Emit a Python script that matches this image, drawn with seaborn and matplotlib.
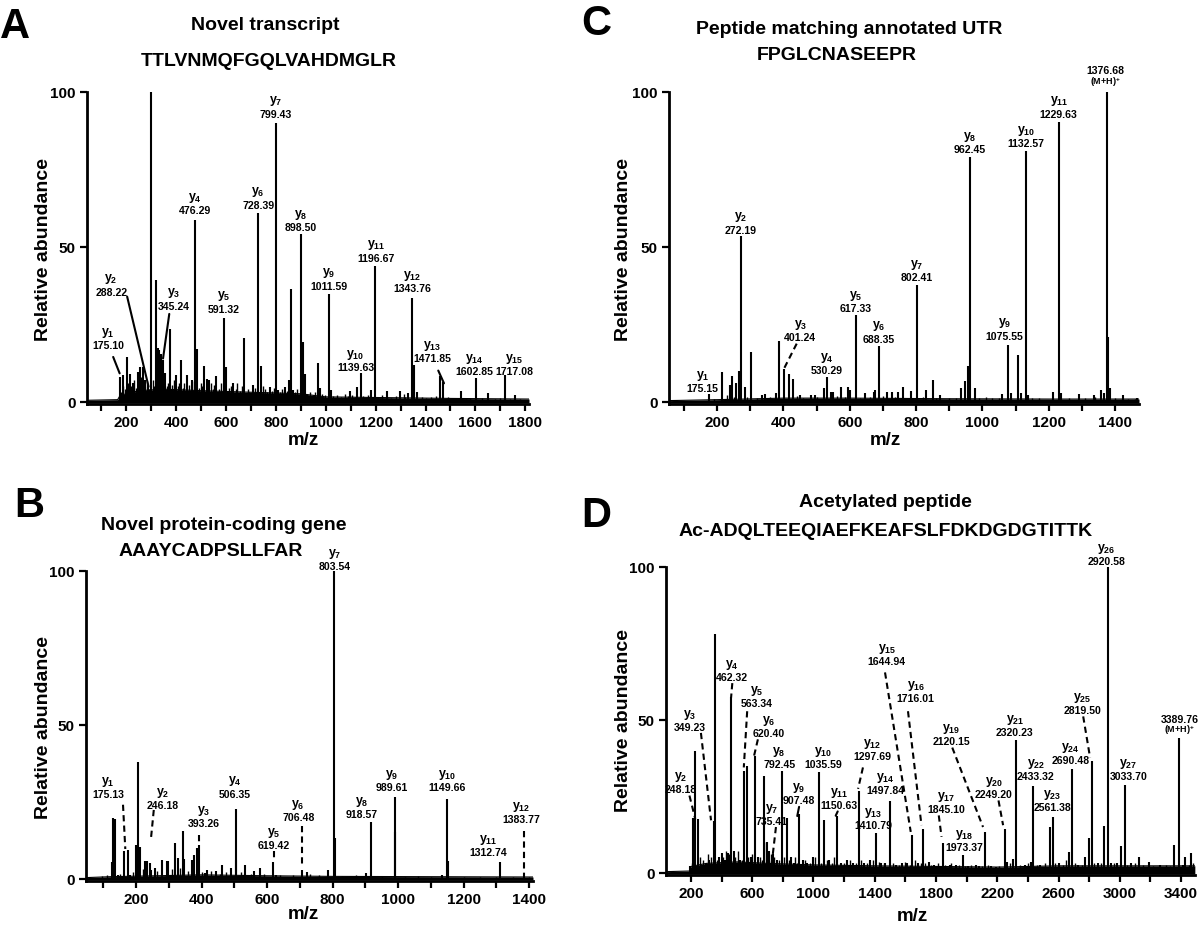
import matplotlib
matplotlib.use("Agg")
import matplotlib.pyplot as plt
from matplotlib.ticker import MultipleLocator, FuncFormatter
import seaborn as sns
import pandas as pd

sns.set_theme(style="ticks")
plt.rcParams['font.family'] = ['Liberation Sans', 'DejaVu Sans']
plt.rcParams['mathtext.fontset'] = 'custom'
plt.rcParams['mathtext.rm'] = 'Liberation Sans:bold'
plt.rcParams['mathtext.it'] = 'Liberation Sans:bold'
plt.rcParams['mathtext.bf'] = 'Liberation Sans:bold'
for k in ('text.color', 'axes.labelcolor', 'xtick.color', 'ytick.color', 'axes.edgecolor'):
    plt.rcParams[k] = 'black'

# ---------------- Panel A data ----------------
a_title = "Novel transcript"
a_seq = "TTLVNMQFGQLVAHDMGLR"
a_peaks = [(175.10, 8), (185, 8.5), (203, 14.4), (213, 9), (227, 6), (247, 9.6), (256, 11.2), (265, 11),
           (276, 7), (288.22, 4.8), (300, 100), (317, 39.3), (325, 17.4), (332, 16.6), (339, 15.5),
           (345.24, 13.4), (356, 9.3), (376, 23.3), (400, 8.5), (419, 13.4), (445, 8.5), (463, 7),
           (476.29, 58.5), (485, 17), (513, 11.4), (523, 7.2), (532, 7), (560, 8.2), (591.32, 27), (600, 11),
           (629, 5.9), (673, 20.6), (707, 5.3), (728.39, 60.8), (739, 11.5), (776, 4.8), (799.43, 90),
           (809, 3.7), (836, 4.8), (853, 7), (860, 36.3), (869, 3.7), (898.50, 54), (909, 19.2), (917, 9),
           (967, 12.3), (976, 4.3), (1011.59, 34.7), (1022, 3.7), (1096, 3.3), (1125, 4.8), (1139.63, 9.3),
           (1181, 3.7), (1196.67, 43.8), (1246, 3.5), (1296, 3.5), (1329, 2.8), (1343.76, 33.3), (1352, 11.7),
           (1365, 3), (1456, 8.2), (1471.85, 6.4), (1541, 3.5), (1602.85, 7.7), (1651, 2.8), (1717.08, 8.5),
           (1757, 2)]
a_noise = [(180, 3), (188, 5), (195, 4), (208, 6), (220, 5), (232, 7), (240, 4.5), (252, 6), (260, 8), (270, 5),
           (281, 6.5), (292, 4), (305, 7), (310, 5), (321, 9), (328, 6), (336, 8), (350, 7), (362, 5), (368, 6),
           (383, 5.5), (392, 7), (407, 5), (412, 6), (426, 4.5), (433, 6), (452, 5.5), (458, 4), (470, 6.5),
           (493, 4.5), (498, 6), (505, 5), (540, 6), (546, 4), (552, 5.5), (571, 4), (578, 6), (587, 3.5),
           (612, 4.5), (620, 5), (638, 4), (645, 6), (655, 3.5), (662, 5), (686, 4), (693, 3), (716, 4.5),
           (722, 3), (748, 5), (756, 4), (765, 3), (784, 3.5), (792, 4.5), (818, 3), (826, 4), (844, 3.5),
           (878, 3), (886, 4), (925, 2.5), (935, 3), (948, 2), (958, 3), (985, 2.5), (995, 2), (1030, 1.8),
           (1046, 2.2), (1060, 1.5), (1078, 2.5), (1088, 1.8), (1106, 2), (1116, 1.5), (1150, 1.8), (1168, 2.2),
           (1210, 1.5), (1225, 2), (1262, 1.2), (1280, 1.8), (1312, 2.5), (1318, 1.5), (1384, 1.5), (1402, 1.2),
           (1420, 1.5), (1440, 1.8), (1492, 1.5), (1520, 1.2), (1562, 0.8), (1580, 1.2), (1625, 1), (1680, 0.8),
           (1700, 1), (1740, 0.7), (1780, 0.8), (1800, 0.6)]
a_env = [(42, 0.4), (165, 0.6), (175, 2), (250, 3.5), (350, 4), (500, 3.5), (700, 3), (900, 2.5),
         (1000, 1.5), (1200, 1.3), (1500, 1), (1815, 0.8)]
a_labels = [("1", "175.10", 126, 18.2), ("2", "288.22", 139, 35.5), ("3", "345.24", 389, 31),
            ("4", "476.29", 476, 61.8), ("5", "591.32", 591, 30), ("6", "728.39", 729, 63.6),
            ("7", "799.43", 798, 93), ("8", "898.50", 901, 56.4), ("9", "1011.59", 1012, 37.4),
            ("10", "1139.63", 1119, 11.2), ("11", "1196.67", 1201, 46.5), ("12", "1343.76", 1347, 36.6),
            ("13", "1471.85", 1427, 13.9), ("14", "1602.85", 1597, 9.8), ("15", "1717.08", 1755, 9.8)]
a_pointers = [(147, 14.4, 173, 9.1, "-"), (203, 33.9, 289, 4.8, "-"), (372, 28.3, 347, 13.9, "-"),
              (1451, 10, 1474, 5.9, "-")]

# ---------------- Panel B data ----------------
b_title = "Novel protein-coding gene"
b_seq = "AAAYCADPSLLFAR"
b_peaks = [(125, 5.3), (130, 19.8), (135, 19.2), (144, 1.3), (163, 8.8), (175.13, 9.4), (180, 1.3), (201, 11),
           (207, 38), (212, 10.4), (227, 5.6), (233, 5.6), (241, 5), (246.18, 2.9), (257, 3.4), (279, 5.9),
           (293, 5.8), (298, 5.6), (320, 11.7), (328, 6.7), (342, 15.6), (346, 6.3), (372, 5.9), (376, 7.7),
           (387, 9.9), (393.26, 11), (409, 1.8), (417, 2.9), (443, 2.4), (463, 4.3), (490, 3.4), (504, 6.1),
           (506.35, 22.6), (534, 4.5), (560, 2.4), (578, 3.4), (619.42, 5.3), (626, 1.3), (706.48, 2.7),
           (722, 2), (785, 2.7), (803.54, 100), (807, 13.3), (901, 1.8), (918.57, 18.5), (989.61, 26.6),
           (992, 15), (1133, 1.3), (1149.66, 25.8), (1153, 5.6), (1312.74, 5.4), (1383.77, 1.3)]
b_noise = [(95, 0.8), (110, 1), (150, 1.5), (190, 2), (222, 3), (265, 2.5), (310, 3), (335, 3.5), (360, 2.5),
           (400, 2), (430, 2.5), (455, 1.5), (475, 2), (520, 2), (550, 1.5), (590, 1.5), (640, 1.2), (680, 1),
           (730, 1.5), (760, 1), (830, 0.8), (870, 1), (950, 0.8), (1020, 0.6), (1060, 0.8), (1100, 0.6),
           (1200, 0.6), (1250, 0.5), (1300, 0.6), (1350, 0.5), (1400, 0.5)]
b_env = [(47, 0.3), (120, 0.6), (400, 1.2), (600, 0.9), (800, 0.7), (1412, 0.5)]
b_labels = [("1", "175.13", 114, 27.4), ("2", "246.18", 281, 24), ("3", "393.26", 406, 18),
            ("4", "506.35", 501, 27.6), ("5", "619.42", 620, 10.8), ("6", "706.48", 695, 19.9),
            ("7", "803.54", 807, 101.6), ("8", "918.57", 888, 20.9), ("9", "989.61", 982, 29.8),
            ("10", "1149.66", 1150, 29.8), ("11", "1312.74", 1274, 8.6), ("12", "1383.77", 1377, 19.2)]
b_pointers = [(160, 24, 167, 9.6, "--"), (254, 22.3, 245, 12.6, "--"), (393, 14.2, 393, 11, "--"),
              (620, 8.8, 620, 6.5, "--"), (706, 17.1, 706, 4.5, "--"), (1384, 15.3, 1384, 1.3, "--")]

# ---------------- Panel C data ----------------
c_title = "Peptide matching annotated UTR"
c_seq = "FPGLCNASEEPR"
c_peaks = [(175.15, 2.3), (215, 9.6), (238, 5.3), (244, 8.3), (256, 5.9), (265, 10), (272.19, 53.4), (285, 4.8),
           (303, 16), (335, 2.1), (343, 2.3), (379, 2.7), (388, 19.7), (401.24, 10.5), (416, 8.8), (429, 7.2),
           (449, 2.1), (484, 2.1), (495, 2.1), (522, 4.3), (530.29, 8), (542, 3.2), (548, 3.2), (575, 4.8),
           (595, 4.6), (601, 3.7), (617.33, 28), (645, 2.7), (672, 3.2), (677, 3.7), (688.35, 18.1), (712, 3.2),
           (726, 3.2), (745, 3.2), (761, 4.6), (784, 3.4), (802.41, 37.6), (831, 3.7), (850, 7), (873, 2.1),
           (934, 4.3), (946, 6.6), (957, 11.4), (962.45, 79), (977, 4.3), (1059, 2.3), (1075.55, 18.4),
           (1086, 2.7), (1106, 15), (1117, 2.7), (1132.57, 81.1), (1138, 2.1), (1214, 3.2), (1229.63, 90.4),
           (1238, 2.7), (1290, 2.3), (1337, 2.1), (1358, 3.7), (1366, 2.7), (1376.68, 100), (1379, 21),
           (1384, 4.3), (1423, 2.1), (1466, 1)]
c_noise = [(190, 0.8), (230, 2), (250, 1.5), (290, 1.5), (320, 1.2), (360, 1.5), (440, 1.8), (460, 1.2),
           (500, 1.5), (560, 1.8), (585, 1.5), (630, 1.2), (660, 1.5), (700, 1.8), (735, 1.5), (770, 1.2),
           (820, 1.5), (860, 1.2), (900, 1), (920, 1.2), (990, 1), (1010, 1.5), (1030, 1), (1050, 1.2),
           (1150, 1), (1170, 1.2), (1260, 1), (1310, 1.2), (1340, 1.5), (1400, 1), (1440, 0.8), (1460, 0.8)]
c_env = [(55, 0.3), (200, 0.6), (400, 1.1), (600, 1.1), (900, 0.9), (1200, 0.8), (1472, 0.8)]
c_labels = [("1", "175.15", 156, 4.3), ("2", "272.19", 272, 55.5), ("3", "401.24", 451, 20.8),
            ("4", "530.29", 530, 10.1), ("5", "617.33", 617, 30.1), ("6", "688.35", 688, 20.3),
            ("7", "802.41", 802, 40.2), ("8", "962.45", 962, 81.6), ("9", "1075.55", 1066, 21.3),
            ("10", "1132.57", 1132, 83.5), ("11", "1229.63", 1230, 93)]
c_pointers = [(440, 18.7, 403, 10.9, "--")]
c_parent = ("1376.68", 1372, 107)

# ---------------- Panel D data ----------------
d_title = "Acetylated peptide"
d_seq = "Ac-ADQLTEEQIAEFKEAFSLFDKDGDGTITTK"
d_peaks = [(195, 2), (215, 17.8), (228, 39.9), (248.18, 17.5), (300, 3), (320, 4), (349.23, 16.9), (360, 78),
           (380, 5), (400, 6.5), (420, 4), (440, 6.5), (462.32, 57.3), (480, 7), (500, 3), (520, 4), (547, 33.3),
           (563.34, 35), (590, 5), (620.40, 38.2), (640, 5), (679, 31.7), (697, 10), (710, 7), (735.41, 6),
           (760, 4), (792.45, 33.3), (827, 18), (850, 5), (870, 3), (907.48, 19.3), (930, 4), (960, 3),
           (1000, 5), (1035.59, 33), (1071, 17.1), (1100, 4), (1150.63, 18.6), (1180, 3), (1220, 4), (1260, 3),
           (1297.69, 26.8), (1330, 3), (1370, 4), (1410.79, 13.1), (1440, 3), (1470, 3), (1497.84, 23.5),
           (1540, 2.5), (1580, 3), (1610, 3), (1644.94, 12.2), (1681, 3), (1716.01, 14.1), (1754, 3.3),
           (1790, 2.5), (1845.10, 9.7), (1890, 2.4), (1930, 2.5), (1973.37, 5.6), (2010, 2), (2060, 2.5),
           (2083, 2), (2120.15, 13.3), (2160, 2), (2193, 1.8), (2249.20, 14.4), (2262, 3.3), (2300, 4.4),
           (2320.23, 43.3), (2380, 2.5), (2420, 3.3), (2433.32, 28.4), (2480, 2.5), (2545, 14.9),
           (2561.38, 18.3), (2600, 3), (2670, 6.7), (2690.48, 34), (2730, 2.5), (2770, 5), (2800, 11.3),
           (2819.50, 36.5), (2860, 3), (2895, 15.2), (2920.58, 100), (2940, 3), (2980, 3), (3010, 8.6),
           (3033.70, 28.5), (3075, 3), (3125, 5.2), (3190, 3.6), (3265, 2.5), (3352, 9), (3389.76, 44.1),
           (3410, 2.5), (3428, 5), (3465, 6.3)]
d_noise = [(210, 3), (260, 5), (280, 4), (310, 6), (330, 5), (370, 4), (410, 5), (430, 7), (450, 6), (490, 5),
           (510, 7), (530, 4), (575, 5), (600, 6), (650, 5), (665, 4), (690, 10), (720, 6), (745, 5), (775, 4),
           (810, 5), (840, 4), (880, 5), (890, 3), (945, 4), (975, 3), (1010, 5), (1050, 3), (1085, 4),
           (1120, 3), (1135, 5), (1200, 3), (1240, 4), (1280, 3), (1310, 4), (1350, 3), (1390, 4), (1430, 3.5),
           (1460, 3), (1520, 3), (1560, 2.5), (1600, 3.5), (1630, 2.5), (1660, 4), (1700, 3), (1730, 3),
           (1770, 2.5), (1810, 3), (1860, 2.5), (1900, 3), (1950, 2.5), (1990, 2), (2030, 2.5), (2100, 2),
           (2140, 2.5), (2210, 2), (2280, 3), (2350, 2.5), (2400, 3), (2460, 2.5), (2510, 3), (2580, 3),
           (2630, 2.5), (2650, 4), (2710, 3), (2750, 2.5), (2830, 3), (2880, 3), (2960, 3), (3050, 2.5),
           (3100, 3), (3150, 2.5), (3220, 2), (3300, 2.5), (3330, 2), (3450, 2.5), (3480, 3)]
d_env = [(37, 0.3), (190, 0.5), (200, 2), (300, 3), (500, 3.5), (700, 3), (1000, 2.5), (1400, 2.2),
         (1800, 2), (2200, 1.8), (2600, 2.2), (3000, 2.2), (3490, 2.2)]
d_labels = [("2", "248.18", 130, 27.4), ("3", "349.23", 190, 47.7), ("4", "462.32", 466, 64.1),
            ("5", "563.34", 632, 55.5), ("6", "620.40", 708, 45.7), ("7", "735.41", 725, 16.8),
            ("8", "792.45", 776, 35.5), ("9", "907.48", 901, 23.6), ("10", "1035.59", 1065, 35.5),
            ("11", "1150.63", 1165, 22.2), ("12", "1297.69", 1384, 38.2), ("13", "1410.79", 1391, 15.5),
            ("14", "1497.84", 1467, 27), ("15", "1644.94", 1479, 69.2), ("16", "1716.01", 1668, 57),
            ("17", "1845.10", 1869, 20.9), ("18", "1973.37", 1982, 8.4), ("19", "2120.15", 1901, 43),
            ("20", "2249.20", 2178, 25.7), ("21", "2320.23", 2314, 46), ("22", "2433.32", 2452, 31.7),
            ("23", "2561.38", 2560, 21.4), ("24", "2690.48", 2680, 36.8), ("25", "2819.50", 2756, 53.3),
            ("26", "2920.58", 2912, 102), ("27", "3033.70", 3057, 31.7)]
d_pointers = [(190, 25.2, 228, 17.6, "--"), (265, 45.7, 331, 17.1, "--"), (470, 62, 462, 57.3, "--"),
              (567, 52.8, 545, 34.4, "--"), (637, 43.6, 612, 38.2, "--"), (755, 14.9, 725, 2, "--"),
              (906, 21.5, 894, 18.5, "-"), (1158, 20, 1145, 18.6, "-"), (1323, 34.4, 1291, 27.4, "--"),
              (1467, 65.5, 1635, 13.3, "--"), (1617, 52.8, 1705, 15.5, "--"), (1818, 18.7, 1836, 11.7, "--"),
              (1906, 40.9, 2107, 14.9, "--"), (2208, 23.6, 2238, 15.5, "--"), (2761, 51.1, 2806, 37.6, "--")]
d_parent = ("3389.76", 3389, 50.3)

# ---------------- drawing ----------------
W, H = 1200, 928
fig = plt.figure(figsize=(W / 100, H / 100), dpi=100)


def px_axes(left, right, top, bottom):
    return fig.add_axes([left / W, (H - bottom) / H, (right - left) / W, (bottom - top) / H])


def draw(ax, peaks, noise, env, labels, pointers, xlim, minor_step, label_step, label_start, parent=None):
    env_df = pd.DataFrame(env, columns=["mz", "int"])
    ax.fill_between(env_df["mz"], -0.5, env_df["int"], color="black", lw=0)
    sns.lineplot(data=env_df, x="mz", y="int", ax=ax, color="black", lw=0.8)
    nz = pd.DataFrame(noise, columns=["mz", "int"])
    ax.vlines(nz["mz"], 0, nz["int"], color="black", lw=1.0)
    pk = pd.DataFrame(peaks, columns=["mz", "int"])
    ax.vlines(pk["mz"], 0, pk["int"], color="black", lw=1.5)
    for sub, txt, x, y in labels:
        ax.text(x, y, txt, ha="center", va="center", fontsize=7.6, fontweight="bold", clip_on=False)
        ax.text(x, y + 4.3, r"$y_{%s}$" % sub, ha="center", va="center", fontsize=9, clip_on=False)
    for x1, y1, x2, y2, ls in pointers:
        ax.plot([x1, x2], [y1, y2], color="black", lw=1.5, ls=ls,
                dashes=(3, 2) if ls == "--" else (None, None), clip_on=False)
    if parent is not None:
        txt, x, y = parent
        ax.text(x, y, txt, ha="center", va="center", fontsize=7.6, fontweight="bold", clip_on=False)
        ax.text(x, y - 3.4, r"(M+H)$^{+}$", ha="center", va="center", fontsize=6.5, fontweight="bold",
                clip_on=False)
    ax.set_xlim(*xlim)
    ax.set_ylim(-0.8, 100)
    ax.set_xlabel("")
    ax.set_ylabel("")
    ax.xaxis.set_major_locator(MultipleLocator(minor_step))
    ax.xaxis.set_major_formatter(FuncFormatter(
        lambda v, p: "%d" % v if abs((v - label_start) % label_step) < 1e-6 else ""))
    ax.set_yticks([0, 50, 100])
    ax.tick_params(axis="both", direction="out", length=5, width=1.6, labelsize=11, pad=3,
                   color="black", labelcolor="black")
    for lab in ax.get_xticklabels() + ax.get_yticklabels():
        lab.set_fontweight("bold")
    sns.despine(ax=ax)
    for s in ("left", "bottom"):
        ax.spines[s].set_linewidth(2)
        ax.spines[s].set_color("black")
    ax.set_facecolor("white")


axA = px_axes(87, 529, 93, 405)
draw(axA, a_peaks, a_noise, a_env, a_labels, a_pointers, (42, 1815), 100, 200, 0)
axC = px_axes(669, 1139, 93, 405)
draw(axC, c_peaks, c_noise, c_env, c_labels, c_pointers, (55, 1472), 100, 200, 0, c_parent)
axB = px_axes(86, 533, 572, 882)
draw(axB, b_peaks, b_noise, b_env, b_labels, b_pointers, (47, 1412), 100, 200, 0)
axD = px_axes(666, 1195, 568, 876)
draw(axD, d_peaks, d_noise, d_env, d_labels, d_pointers, (37, 3491), 200, 400, 200, d_parent)


def ftext(x, y, s, **kw):
    fig.text(x / W, 1 - y / H, s, ha="center", va="center", color="black", **kw)


# panel letters
for letter, x, y in [("A", 15, 27), ("C", 596, 24), ("B", 29, 506), ("D", 596, 516)]:
    ftext(x, y, letter, fontsize=30, fontweight="bold")

# titles
for t, x, y in [(a_title, 265, 25), (a_seq, 269, 62), (c_title, 849, 29), (c_seq, 837, 55),
                (b_title, 224, 526), (b_seq, 211, 552), (d_title, 885, 503), (d_seq, 886, 531)]:
    ftext(x, y, t, fontsize=14, fontweight="bold")

# axis labels
for x, y in [(44, 250), (624, 250), (44, 728), (624, 721)]:
    ftext(x, y, "Relative abundance", fontsize=14, fontweight="bold", rotation=90)
for x, y in [(303, 441), (885, 441), (303, 915), (912, 917)]:
    ftext(x, y, "m/z", fontsize=13.5, fontweight="bold")

fig.savefig("out.png", dpi=100, facecolor="white")
